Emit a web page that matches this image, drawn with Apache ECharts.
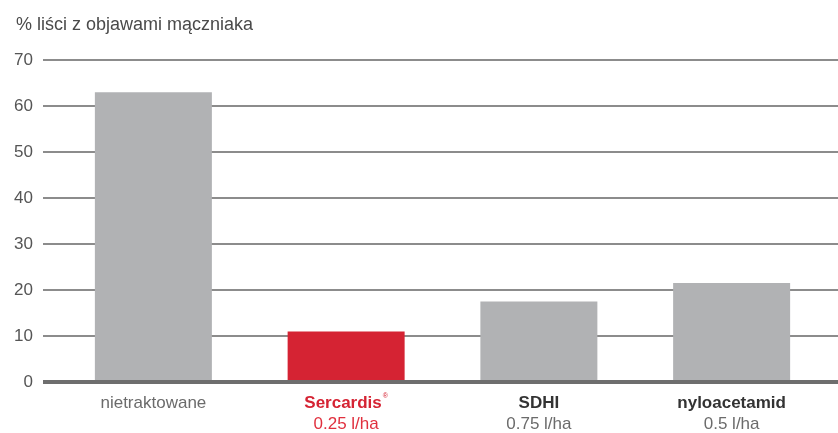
<!DOCTYPE html>
<html>
<head>
<meta charset="utf-8">
<script src="https://cdn.jsdelivr.net/npm/echarts@6/dist/echarts.min.js"></script>
<style>
  html, body { margin: 0; padding: 0; background: #fff; }
  #chart { width: 838px; height: 433px; }
</style>
</head>
<body>
<div id="chart"></div>
<script>
// -- data --
let categories = ['nietraktowane', 'Sercardis', 'SDHI', 'nyloacetamid'];
let doses = ['', '0.25 l/ha', '0.75 l/ha', '0.5 l/ha'];
let values = [63, 11, 17.5, 21.5];
let barColors = ['#b1b2b4', '#d52333', '#b1b2b4', '#b1b2b4'];
let yTicks = [0, 10, 20, 30, 40, 50, 60, 70];

let font = '"Liberation Sans", Arial, sans-serif';
let fs = 17;

function catLabel(value, idx) {
  if (idx === 0) return '{plain|' + value + '}';
  if (idx === 1) return '{red|' + value + '}{sup|®}\n{redDose|' + doses[idx] + '}';
  return '{bold|' + value + '}\n{dose|' + doses[idx] + '}';
}

let option = {
  animation: false,
  backgroundColor: '#fff',
  title: {
    text: '% liści z objawami mączniaka',
    left: 11,
    top: 11,
    textStyle: {fontFamily: font, fontSize: 18, fontWeight: 'normal', color: '#4a4a4a'}
  },
  grid: [
    // back grid: only for y labels and full-width lines
    {left: 43, right: 0, top: 60, bottom: 51, outerBoundsMode: 'none'},
    // bars
    {left: 57, right: 10, top: 60, bottom: 51, outerBoundsMode: 'none'}
  ],
  xAxis: [
    {
      gridIndex: 0, type: 'category', data: categories,
      show: false
    },
    {
      gridIndex: 1, type: 'category', data: categories,
      axisLine: {show: false},
      axisTick: {show: false},
      axisLabel: {
        margin: 11,
        fontFamily: font,
        formatter: catLabel,
        rich: {
          plain: {fontSize: fs, color: '#6b6b6b', lineHeight: 21, fontFamily: font},
          red: {fontSize: fs, color: '#d52333', fontWeight: 'bold', lineHeight: 21, fontFamily: font},
          sup: {fontSize: 7, color: '#d52333', verticalAlign: 'top', lineHeight: 21, padding: [0, 0, 8, 1], fontFamily: font},
          redDose: {fontSize: fs, color: '#e0303e', lineHeight: 21, fontFamily: font},
          bold: {fontSize: fs, color: '#333', fontWeight: 'bold', lineHeight: 21, fontFamily: font},
          dose: {fontSize: fs, color: '#6b6b6b', lineHeight: 21, fontFamily: font}
        }
      }
    }
  ],
  yAxis: [
    {
      gridIndex: 0, type: 'value', min: yTicks[0], max: yTicks[yTicks.length - 1], interval: 10,
      axisLine: {show: false},
      axisTick: {show: false},
      axisLabel: {margin: 10, fontFamily: font, fontSize: fs, color: '#555'},
      splitLine: {lineStyle: {color: '#8c8c8c', width: 2}}
    },
    {
      gridIndex: 1, type: 'value', min: yTicks[0], max: yTicks[yTicks.length - 1], interval: 10,
      show: false
    }
  ],
  series: [
    {
      // zero baseline across full width
      type: 'line', xAxisIndex: 0, yAxisIndex: 0, data: [], silent: true,
      markLine: {
        symbol: 'none', silent: true, label: {show: false},
        lineStyle: {color: '#6e6e6e', width: 4, type: 'solid'},
        data: [{yAxis: 0}]
      }
    },
    {
      type: 'bar', xAxisIndex: 1, yAxisIndex: 1,
      barWidth: 117,
      data: values.map(function (v, i) {
        return {value: v, itemStyle: {color: barColors[i]}};
      })
    }
  ]
};

let myChart = echarts.init(document.getElementById('chart'));
myChart.setOption(option);
</script>
</body>
</html>
